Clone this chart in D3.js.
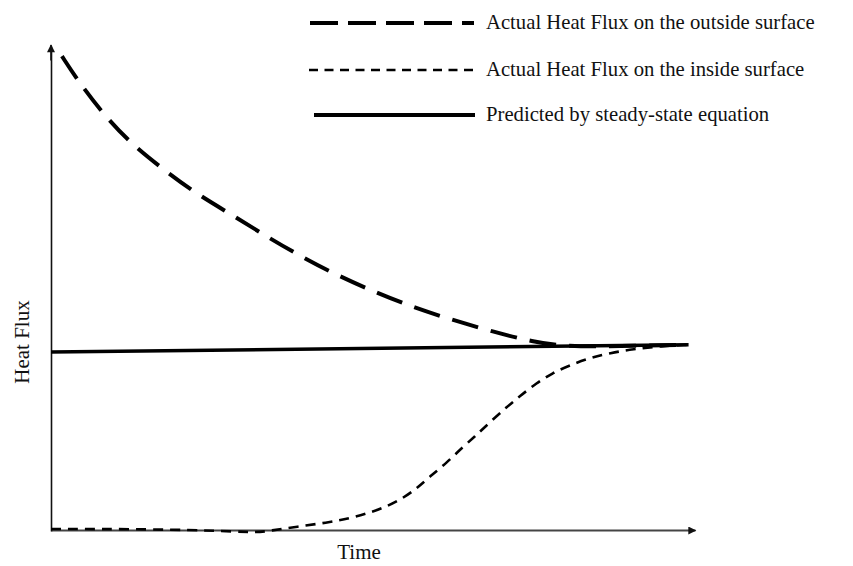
<!DOCTYPE html>
<html>
<head>
<meta charset="utf-8">
<script src="https://cdn.jsdelivr.net/npm/d3@7"></script>
<style>
  html, body { margin: 0; padding: 0; background: #fff; }
  svg { display: block; }
  text { font-family: "Liberation Serif", "Times New Roman", serif; fill: #111; }
</style>
</head>
<body>
<svg id="chart" width="853" height="566"></svg>
<script>
// ---- data (abstract units: time 0..100, heat flux 0..100) ----
const outsideTime = [1.7, 4, 7.9, 12.3, 17.4, 22.6, 28.1, 33.5, 38.7, 44.6, 50.6, 56.5, 62.4, 68.6, 74.8, 80.1, 88, 99];
const outsideFlux = [97.9, 93.2, 86.3, 80.0, 74.6, 69.5, 65.2, 60.7, 56.7, 52.6, 49.1, 46.0, 43.5, 41.1, 39.0, 38.0, 38.1, 38.4];

const insideTime = [0, 15.4, 27.8, 31.9, 34.0, 38.2, 42.8, 46.4, 49.5, 52.1, 54.7, 56.8, 58.8, 61.4, 64.0, 66.1, 68.2, 70.8, 72.8, 75.4, 77.9, 80.6, 83.7, 86.8, 90.4, 94.6, 99];
const insideFlux = [0.4, 0.4, 0.0, -0.35, 0.06, 0.9, 1.7, 2.6, 3.8, 5.0, 6.8, 8.8, 11.2, 14.0, 17.4, 19.8, 22.5, 25.6, 27.8, 30.5, 32.6, 34.2, 35.7, 36.7, 37.5, 38.1, 38.4];

const steadyTime = [0, 99];
const steadyFlux = [36.9, 38.4];

const legendLabels = [
  "Actual Heat Flux on the outside surface",
  "Actual Heat Flux on the inside surface",
  "Predicted by steady-state equation"
];
const xLabel = "Time";
const yLabel = "Heat Flux";

// ---- drawing ----
const svg = d3.select("#chart");
const x = d3.scaleLinear().domain([0, 100]).range([51, 695]);
const y = d3.scaleLinear().domain([0, 100]).range([531, 46]);

const defs = svg.append("defs");
defs.append("marker")
  .attr("id", "arrow")
  .attr("viewBox", "0 0 10 10")
  .attr("refX", 9).attr("refY", 5)
  .attr("markerWidth", 10).attr("markerHeight", 8)
  .attr("markerUnits", "userSpaceOnUse")
  .attr("orient", "auto")
  .append("path").attr("d", "M0,0 L10,5 L0,10 Z").attr("fill", "#111");

// axes (no ticks) with arrowheads
const xAxisG = svg.append("g").attr("transform", `translate(0,${y(0) - 1})`)
  .call(d3.axisBottom(x).tickValues([]).tickSizeOuter(0));
xAxisG.select(".domain").attr("stroke", "#444").attr("stroke-width", 2).attr("marker-end", "url(#arrow)");

const yAxisG = svg.append("g").attr("transform", `translate(${x(0)},0)`)
  .call(d3.axisLeft(y).tickValues([]).tickSizeOuter(0));
yAxisG.select(".domain").attr("stroke", "#111").attr("stroke-width", 1.6);
svg.append("path")
  .attr("d", d3.line()([[x(0), y(97)], [x(0), y(100) - 1]]))
  .attr("stroke", "#111").attr("stroke-width", 1.6)
  .attr("marker-end", "url(#arrow)");

const line = d3.line().x(d => x(d[0])).y(d => y(d[1])).curve(d3.curveBasis);

const steady = d3.zip(steadyTime, steadyFlux);
const outside = d3.zip(outsideTime, outsideFlux);
const inside = d3.zip(insideTime, insideFlux);

svg.append("path").datum(steady).attr("d", line)
  .attr("fill", "none").attr("stroke", "#000").attr("stroke-width", 3.5);

svg.append("path").datum(outside).attr("d", line)
  .attr("fill", "none").attr("stroke", "#000").attr("stroke-width", 4)
  .attr("stroke-dasharray", "27,13");

svg.append("path").datum(inside).attr("d", line)
  .attr("fill", "none").attr("stroke", "#000").attr("stroke-width", 2.6)
  .attr("stroke-dasharray", "10,7");

// legend
const legendStyles = [
  { w: 4, dash: "28,10", x1: 310, x2: 474 },
  { w: 2.6, dash: "9,6.5", x1: 309, x2: 474 },
  { w: 4, dash: null, x1: 314, x2: 475 }
];
const legendY = [23, 70, 115];
const lg = svg.append("g");
legendLabels.forEach((lab, i) => {
  const s = legendStyles[i];
  lg.append("line")
    .attr("x1", s.x1).attr("x2", s.x2)
    .attr("y1", legendY[i]).attr("y2", legendY[i])
    .attr("stroke", "#000").attr("stroke-width", s.w)
    .attr("stroke-dasharray", s.dash);
  lg.append("text")
    .attr("x", 486).attr("y", legendY[i] + 6)
    .attr("font-size", 20.7)
    .text(lab);
});

// axis labels
svg.append("text")
  .attr("x", 359).attr("y", 559)
  .attr("text-anchor", "middle").attr("font-size", 21)
  .text(xLabel);
svg.append("text")
  .attr("transform", "translate(29,342) rotate(-90)")
  .attr("text-anchor", "middle").attr("font-size", 21)
  .text(yLabel);
</script>
</body>
</html>
